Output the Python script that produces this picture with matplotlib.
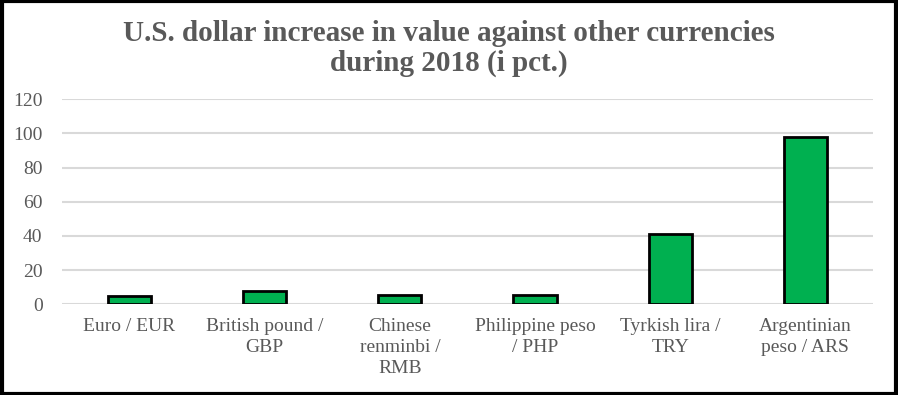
import matplotlib
matplotlib.use("Agg")
import matplotlib.pyplot as plt
from matplotlib.patches import Rectangle

categories = ["Euro / EUR", "British pound /\nGBP", "Chinese\nrenminbi /\nRMB",
              "Philippine peso\n/ PHP", "Tyrkish lira /\nTRY", "Argentinian\npeso / ARS"]
values = [5.0, 7.5, 5.6, 5.6, 41.0, 98.0]
yticks = [0, 20, 40, 60, 80, 100, 120]
title = "U.S. dollar increase in value against other currencies\nduring 2018 (i pct.)"

plt.rcParams['font.family'] = ['Liberation Serif', 'DejaVu Serif']

fig = plt.figure(figsize=(8.98, 3.95), dpi=100)
ax = fig.add_axes([0.069, 0.2296, 0.903, 0.519])

x = list(range(len(categories)))
ax.bar(x, values, width=0.32, color="#00b050", edgecolor="black", linewidth=2, zorder=3)
ax.set_xlim(-0.5, len(categories) - 0.5)
ax.set_ylim(0, 120)
ax.set_yticks(yticks)
ax.set_yticklabels([str(t) for t in yticks])
ax.grid(axis='y', color="#d9d9d9", linewidth=1.5, zorder=0)
ax.set_axisbelow(True)
for s in ax.spines.values():
    s.set_visible(False)
ax.tick_params(axis='both', length=0, colors="#595959", labelsize=14)
ax.tick_params(axis='y', pad=14)
ax.tick_params(axis='x', pad=10)
ax.set_xticks(x)
ax.set_xticklabels(categories, linespacing=1.3)

fig.text(0.5, 0.95, title, ha='center', va='top', fontsize=21, fontweight='bold',
         color="#595959", linespacing=1.15)

fig.patches.append(Rectangle((0.002, 0.003), 0.996, 0.994, transform=fig.transFigure,
                             fill=False, edgecolor='black', linewidth=3))

fig.savefig("out.png", dpi=100)
